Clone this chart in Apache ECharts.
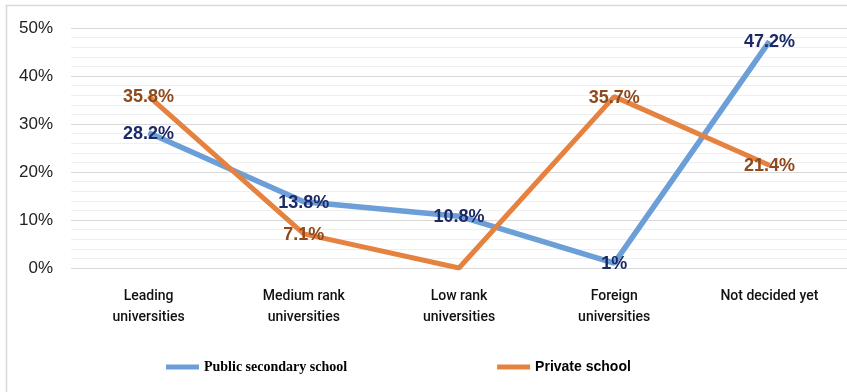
<!DOCTYPE html>
<html>
<head>
<meta charset="utf-8">
<script src="https://cdn.jsdelivr.net/npm/echarts@6/dist/echarts.min.js"></script>
<style>
html,body{margin:0;padding:0;background:#fff;}
#chart{width:847px;height:392px;}
</style>
</head>
<body>
<div id="chart"></div>
<script>
const categories = ['Leading\nuniversities', 'Medium rank\nuniversities', 'Low rank\nuniversities', 'Foreign\nuniversities', 'Not decided yet'];
const seriesNames = ['Public secondary school', 'Private school'];
const publicValues = [28.2, 13.8, 10.8, 1, 47.2];
const privateValues = [35.8, 7.1, 0, 35.7, 21.4];
const publicLabels = ['28.2%', '13.8%', '10.8%', '1%', '47.2%'];
const privateLabels = ['35.8%', '7.1%', '', '35.7%', '21.4%'];
const yTicks = [0, 10, 20, 30, 40, 50];

const chart = echarts.init(document.getElementById('chart'), null, {renderer: 'canvas'});
const labelBase = {show: true, position: 'inside', offset: [0, 1], fontFamily: 'Liberation Sans, Arial, sans-serif', fontWeight: 'bold', fontSize: 18};

chart.setOption({
  backgroundColor: '#ffffff',
  animation: false,
  graphic: [{
    type: 'rect', left: 4, top: 3, z: -10,
    shape: {width: 1000, height: 1000},
    style: {fill: 'none', stroke: '#d9d9d9', lineWidth: 1.5}
  }],
  grid: {left: 71, right: 0, top: 28, bottom: 124, containLabel: false},
  legend: {
    left: 161, top: 355, itemWidth: 33, itemHeight: 5, itemGap: 150,
    icon: 'rect',
    data: [
      {name: seriesNames[0], itemStyle: {color: '#6c9ed8', opacity: 1}, textStyle: {fontFamily: 'Liberation Serif, Times New Roman, serif', fontWeight: 'bold', fontSize: 14, color: '#000'}},
      {name: seriesNames[1], itemStyle: {color: '#e5823f', opacity: 1}, textStyle: {fontFamily: 'Liberation Sans, Arial, sans-serif', fontWeight: 'bold', fontSize: 14, color: '#000'}}
    ]
  },
  xAxis: {
    type: 'category', data: categories, boundaryGap: true,
    axisLine: {show: false}, axisTick: {show: false},
    axisLabel: {margin: 18, fontFamily: 'Roboto, sans-serif', fontWeight: 500, fontSize: 14, color: '#111', lineHeight: 21, interval: 0}
  },
  yAxis: {
    type: 'value', min: yTicks[0], max: yTicks[yTicks.length - 1], interval: 10,
    axisLine: {show: false}, axisTick: {show: false},
    axisLabel: {margin: 18, formatter: '{value}%', fontFamily: 'Liberation Sans, Arial, sans-serif', fontSize: 17, color: '#222'},
    splitLine: {show: true, lineStyle: {color: '#d9d9d9', width: 1}},
    minorTick: {show: false, splitNumber: 5},
    minorSplitLine: {show: true, lineStyle: {color: '#efefef', width: 1}}
  },
  series: [
    {
      name: seriesNames[0], type: 'line', data: publicValues, symbol: 'circle', symbolSize: 1, showSymbol: true,
      lineStyle: {color: '#6c9ed8', width: 5.5}, itemStyle: {color: '#6c9ed8'}, z: 2,
      label: Object.assign({}, labelBase, {color: '#1b2a66', formatter: p => publicLabels[p.dataIndex]})
    },
    {
      name: seriesNames[1], type: 'line', data: privateValues, symbol: 'circle', symbolSize: 1, showSymbol: true,
      lineStyle: {color: '#e5823f', width: 5}, itemStyle: {color: '#e5823f'}, z: 3,
      label: Object.assign({}, labelBase, {color: '#8e4a1c', formatter: p => privateLabels[p.dataIndex]})
    }
  ]
});
</script>
</body>
</html>
